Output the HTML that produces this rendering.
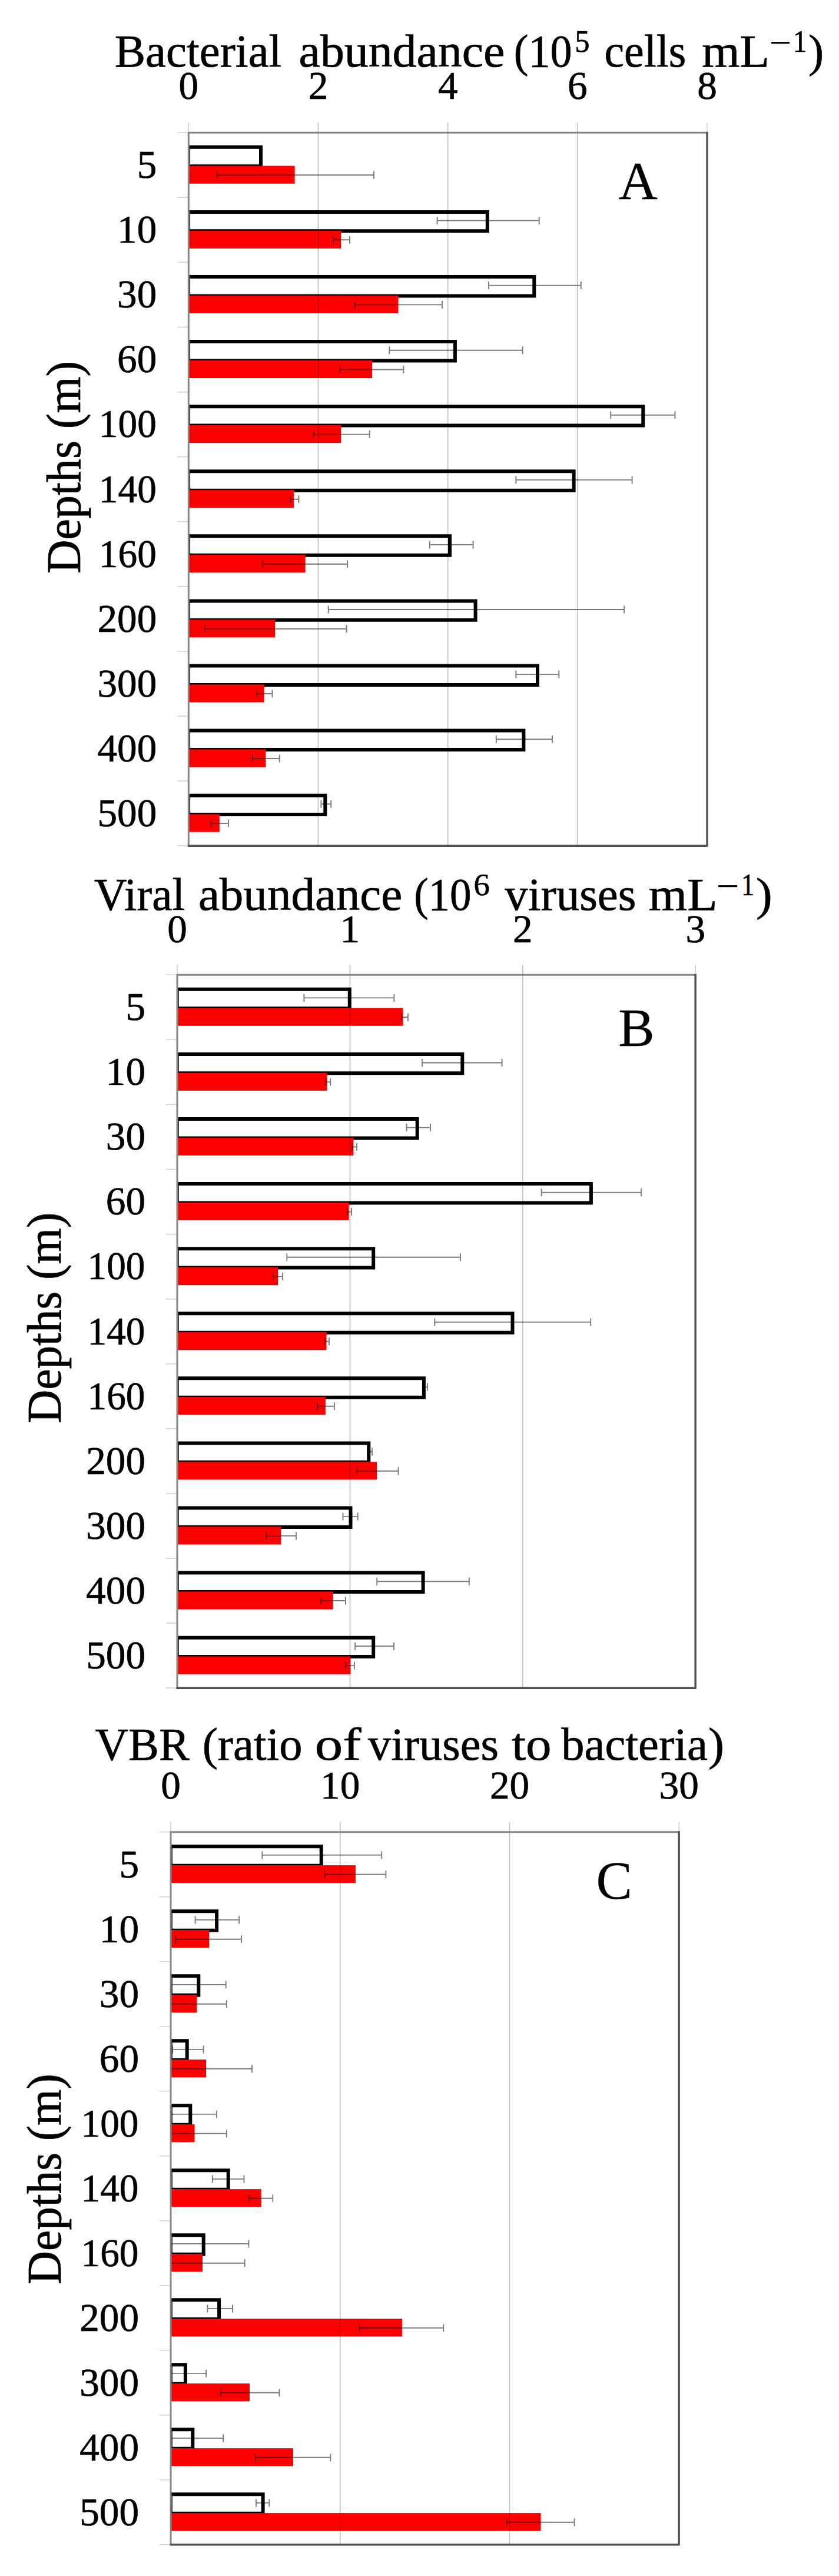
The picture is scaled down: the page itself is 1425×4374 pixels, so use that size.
<!DOCTYPE html>
<html lang="en"><head><meta charset="utf-8"><title>Figure</title>
<style>html,body{margin:0;padding:0;background:#fff}svg{display:block}</style></head>
<body>
<svg width="1425" height="4374" viewBox="0 0 1425 4374" font-family="'Liberation Serif', 'Times New Roman', serif" fill="#000">
<style>text{stroke:#000;stroke-width:0.7px;stroke-linejoin:round}</style>
<rect width="1425" height="4374" fill="#fff"/>
<g id="panelA">
<path d="M320.3 249.8H443.0V282.2H320.3" fill="#fff" stroke="#000" stroke-width="6.0"/>
<line x1="322.3" y1="249.8" x2="322.3" y2="282.2" stroke="#000" stroke-width="1.6"/>
<path d="M320.3 359.9H827.8V392.3H320.3" fill="#fff" stroke="#000" stroke-width="6.0"/>
<line x1="322.3" y1="359.9" x2="322.3" y2="392.3" stroke="#000" stroke-width="1.6"/>
<path d="M320.3 470.0H907.3V502.4H320.3" fill="#fff" stroke="#000" stroke-width="6.0"/>
<line x1="322.3" y1="470.0" x2="322.3" y2="502.4" stroke="#000" stroke-width="1.6"/>
<path d="M320.3 580.1H772.9V612.5H320.3" fill="#fff" stroke="#000" stroke-width="6.0"/>
<line x1="322.3" y1="580.1" x2="322.3" y2="612.5" stroke="#000" stroke-width="1.6"/>
<path d="M320.3 690.2H1092.3V722.6H320.3" fill="#fff" stroke="#000" stroke-width="6.0"/>
<line x1="322.3" y1="690.2" x2="322.3" y2="722.6" stroke="#000" stroke-width="1.6"/>
<path d="M320.3 800.3H974.6V832.7H320.3" fill="#fff" stroke="#000" stroke-width="6.0"/>
<line x1="322.3" y1="800.3" x2="322.3" y2="832.7" stroke="#000" stroke-width="1.6"/>
<path d="M320.3 910.3H764.0V942.7H320.3" fill="#fff" stroke="#000" stroke-width="6.0"/>
<line x1="322.3" y1="910.3" x2="322.3" y2="942.7" stroke="#000" stroke-width="1.6"/>
<path d="M320.3 1020.4H807.6V1052.8H320.3" fill="#fff" stroke="#000" stroke-width="6.0"/>
<line x1="322.3" y1="1020.4" x2="322.3" y2="1052.8" stroke="#000" stroke-width="1.6"/>
<path d="M320.3 1130.5H913.0V1162.9H320.3" fill="#fff" stroke="#000" stroke-width="6.0"/>
<line x1="322.3" y1="1130.5" x2="322.3" y2="1162.9" stroke="#000" stroke-width="1.6"/>
<path d="M320.3 1240.6H889.4V1273.0H320.3" fill="#fff" stroke="#000" stroke-width="6.0"/>
<line x1="322.3" y1="1240.6" x2="322.3" y2="1273.0" stroke="#000" stroke-width="1.6"/>
<path d="M320.3 1350.7H552.3V1383.1H320.3" fill="#fff" stroke="#000" stroke-width="6.0"/>
<line x1="322.3" y1="1350.7" x2="322.3" y2="1383.1" stroke="#000" stroke-width="1.6"/>
<rect x="320.3" y="281.6" width="180.3" height="30.2" fill="#ff0000"/>
<rect x="320.3" y="391.7" width="258.7" height="30.2" fill="#ff0000"/>
<rect x="320.3" y="501.8" width="356.2" height="30.2" fill="#ff0000"/>
<rect x="320.3" y="611.9" width="311.9" height="30.2" fill="#ff0000"/>
<rect x="320.3" y="722.0" width="258.7" height="30.2" fill="#ff0000"/>
<rect x="320.3" y="832.1" width="178.6" height="30.2" fill="#ff0000"/>
<rect x="320.3" y="942.1" width="198.2" height="30.2" fill="#ff0000"/>
<rect x="320.3" y="1052.2" width="146.7" height="30.2" fill="#ff0000"/>
<rect x="320.3" y="1162.3" width="128.2" height="30.2" fill="#ff0000"/>
<rect x="320.3" y="1272.4" width="131.0" height="30.2" fill="#ff0000"/>
<rect x="320.3" y="1382.5" width="52.5" height="30.2" fill="#ff0000"/>
<line x1="320.3" y1="208.2" x2="320.3" y2="225.2" stroke="#cfcfcf" stroke-width="1.6"/>
<line x1="540.5" y1="208.2" x2="540.5" y2="1436.2" stroke="rgba(0,0,0,0.24)" stroke-width="1.7"/>
<line x1="760.7" y1="208.2" x2="760.7" y2="1436.2" stroke="rgba(0,0,0,0.24)" stroke-width="1.7"/>
<line x1="980.8" y1="208.2" x2="980.8" y2="1436.2" stroke="rgba(0,0,0,0.24)" stroke-width="1.7"/>
<line x1="1201.0" y1="208.2" x2="1201.0" y2="225.2" stroke="#cfcfcf" stroke-width="1.6"/>
<line x1="301.3" y1="225.2" x2="320.3" y2="225.2" stroke="#d2d2d2" stroke-width="1.6"/>
<line x1="301.3" y1="335.3" x2="320.3" y2="335.3" stroke="#d2d2d2" stroke-width="1.6"/>
<line x1="301.3" y1="445.4" x2="320.3" y2="445.4" stroke="#d2d2d2" stroke-width="1.6"/>
<line x1="301.3" y1="555.5" x2="320.3" y2="555.5" stroke="#d2d2d2" stroke-width="1.6"/>
<line x1="301.3" y1="665.6" x2="320.3" y2="665.6" stroke="#d2d2d2" stroke-width="1.6"/>
<line x1="301.3" y1="775.7" x2="320.3" y2="775.7" stroke="#d2d2d2" stroke-width="1.6"/>
<line x1="301.3" y1="885.7" x2="320.3" y2="885.7" stroke="#d2d2d2" stroke-width="1.6"/>
<line x1="301.3" y1="995.8" x2="320.3" y2="995.8" stroke="#d2d2d2" stroke-width="1.6"/>
<line x1="301.3" y1="1105.9" x2="320.3" y2="1105.9" stroke="#d2d2d2" stroke-width="1.6"/>
<line x1="301.3" y1="1216.0" x2="320.3" y2="1216.0" stroke="#d2d2d2" stroke-width="1.6"/>
<line x1="301.3" y1="1326.1" x2="320.3" y2="1326.1" stroke="#d2d2d2" stroke-width="1.6"/>
<line x1="301.3" y1="1436.2" x2="320.3" y2="1436.2" stroke="#d2d2d2" stroke-width="1.6"/>
<path d="M368.0 297.2H635.0M635.0 290.7v13M368.0 290.7v13" stroke="rgba(0,0,0,0.52)" stroke-width="1.9" fill="none"/>
<path d="M742.6 374.5H915.7M915.7 368.0v13M742.6 368.0v13" stroke="rgba(0,0,0,0.52)" stroke-width="1.9" fill="none"/>
<path d="M566.0 407.3H594.0M594.0 400.8v13M566.0 400.8v13" stroke="rgba(0,0,0,0.52)" stroke-width="1.9" fill="none"/>
<path d="M830.0 484.6H986.8M986.8 478.1v13M830.0 478.1v13" stroke="rgba(0,0,0,0.52)" stroke-width="1.9" fill="none"/>
<path d="M602.5 517.4H751.0M751.0 510.9v13M602.5 510.9v13" stroke="rgba(0,0,0,0.52)" stroke-width="1.9" fill="none"/>
<path d="M661.3 594.7H887.6M887.6 588.2v13M661.3 588.2v13" stroke="rgba(0,0,0,0.52)" stroke-width="1.9" fill="none"/>
<path d="M577.3 627.5H685.4M685.4 621.0v13M577.3 621.0v13" stroke="rgba(0,0,0,0.52)" stroke-width="1.9" fill="none"/>
<path d="M1037.2 704.8H1146.5M1146.5 698.3v13M1037.2 698.3v13" stroke="rgba(0,0,0,0.52)" stroke-width="1.9" fill="none"/>
<path d="M532.5 737.6H627.7M627.7 731.1v13M532.5 731.1v13" stroke="rgba(0,0,0,0.52)" stroke-width="1.9" fill="none"/>
<path d="M876.4 814.9H1073.6M1073.6 808.4v13M876.4 808.4v13" stroke="rgba(0,0,0,0.52)" stroke-width="1.9" fill="none"/>
<path d="M493.3 847.7H507.3M507.3 841.2v13M493.3 841.2v13" stroke="rgba(0,0,0,0.52)" stroke-width="1.9" fill="none"/>
<path d="M729.7 924.9H803.6M803.6 918.4v13M729.7 918.4v13" stroke="rgba(0,0,0,0.52)" stroke-width="1.9" fill="none"/>
<path d="M445.7 957.7H590.2M590.2 951.2v13M445.7 951.2v13" stroke="rgba(0,0,0,0.52)" stroke-width="1.9" fill="none"/>
<path d="M557.7 1035.0H1060.2M1060.2 1028.5v13M557.7 1028.5v13" stroke="rgba(0,0,0,0.52)" stroke-width="1.9" fill="none"/>
<path d="M347.6 1067.8H588.5M588.5 1061.3v13M347.6 1061.3v13" stroke="rgba(0,0,0,0.52)" stroke-width="1.9" fill="none"/>
<path d="M876.4 1145.1H949.3M949.3 1138.6v13M876.4 1138.6v13" stroke="rgba(0,0,0,0.52)" stroke-width="1.9" fill="none"/>
<path d="M436.0 1177.9H462.5M462.5 1171.4v13M436.0 1171.4v13" stroke="rgba(0,0,0,0.52)" stroke-width="1.9" fill="none"/>
<path d="M842.8 1255.2H938.0M938.0 1248.7v13M842.8 1248.7v13" stroke="rgba(0,0,0,0.52)" stroke-width="1.9" fill="none"/>
<path d="M428.9 1288.0H474.8M474.8 1281.5v13M428.9 1281.5v13" stroke="rgba(0,0,0,0.52)" stroke-width="1.9" fill="none"/>
<path d="M545.4 1365.3H562.2M562.2 1358.8v13M545.4 1358.8v13" stroke="rgba(0,0,0,0.52)" stroke-width="1.9" fill="none"/>
<path d="M358.8 1398.1H388.0M388.0 1391.6v13M358.8 1391.6v13" stroke="rgba(0,0,0,0.52)" stroke-width="1.9" fill="none"/>
<path d="M320.3 1436.2V225.2H1201.0" stroke="#858585" stroke-width="3" fill="none" stroke-linejoin="miter"/>
<path d="M318.8 1436.2H1201.0V223.7" stroke="#505050" stroke-width="3.4" fill="none" stroke-linejoin="round"/>
<text x="320.3" y="167.5" font-size="67.2" text-anchor="middle">0</text>
<text x="540.5" y="167.5" font-size="67.2" text-anchor="middle">2</text>
<text x="760.7" y="167.5" font-size="67.2" text-anchor="middle">4</text>
<text x="980.8" y="167.5" font-size="67.2" text-anchor="middle">6</text>
<text x="1201.0" y="167.5" font-size="67.2" text-anchor="middle">8</text>
<text x="266.3" y="302.0" font-size="67.2" text-anchor="end">5</text>
<text x="266.3" y="412.1" font-size="67.2" text-anchor="end">10</text>
<text x="266.3" y="522.2" font-size="67.2" text-anchor="end">30</text>
<text x="266.3" y="632.3" font-size="67.2" text-anchor="end">60</text>
<text transform="translate(265.8 742.4) scale(0.972 1)" font-size="67.2" text-anchor="end">100</text>
<text transform="translate(265.8 852.5) scale(0.972 1)" font-size="67.2" text-anchor="end">140</text>
<text transform="translate(265.8 962.6) scale(0.972 1)" font-size="67.2" text-anchor="end">160</text>
<text x="266.3" y="1072.7" font-size="67.2" text-anchor="end">200</text>
<text x="266.3" y="1182.8" font-size="67.2" text-anchor="end">300</text>
<text x="266.3" y="1292.9" font-size="67.2" text-anchor="end">400</text>
<text x="266.3" y="1403.0" font-size="67.2" text-anchor="end">500</text>
<text transform="translate(135.6 974.0) rotate(-90) scale(1.0172 1.06)" font-size="78.4">Depths (m)</text>
<text x="1050.4" y="338.3" font-size="92" style="stroke-width:0.3px">A</text>
<text transform="translate(194.69 113.2) scale(1.0029 1)" font-size="78.4">Bacterial</text>
<text transform="translate(507.57 113.2) scale(1.0435 1)" font-size="78.4">abundance</text>
<text transform="translate(872.86 113.2) scale(0.9455 1)" font-size="78.4">(10</text>
<text transform="translate(976.44 88.2) scale(0.9524 1)" font-size="52.3">5</text>
<text transform="translate(1026.40 113.2) scale(0.9667 1)" font-size="78.4">cells</text>
<text transform="translate(1192.19 113.2) scale(1.0529 1)" font-size="78.4">mL</text>
<text transform="translate(1307.02 90.0) scale(1.2400 1)" font-size="52.3">−</text>
<text transform="translate(1346.92 88.2) scale(0.8947 1)" font-size="52.3">1</text>
<text transform="translate(1373.00 113.2) scale(1.0000 1)" font-size="78.4">)</text>
</g>
<g id="panelB">
<path d="M301.0 1679.8H593.8V1712.2H301.0" fill="#fff" stroke="#000" stroke-width="6.0"/>
<line x1="303.0" y1="1679.8" x2="303.0" y2="1712.2" stroke="#000" stroke-width="1.6"/>
<path d="M301.0 1789.9H785.3V1822.3H301.0" fill="#fff" stroke="#000" stroke-width="6.0"/>
<line x1="303.0" y1="1789.9" x2="303.0" y2="1822.3" stroke="#000" stroke-width="1.6"/>
<path d="M301.0 1900.0H708.7V1932.4H301.0" fill="#fff" stroke="#000" stroke-width="6.0"/>
<line x1="303.0" y1="1900.0" x2="303.0" y2="1932.4" stroke="#000" stroke-width="1.6"/>
<path d="M301.0 2010.1H1003.9V2042.5H301.0" fill="#fff" stroke="#000" stroke-width="6.0"/>
<line x1="303.0" y1="2010.1" x2="303.0" y2="2042.5" stroke="#000" stroke-width="1.6"/>
<path d="M301.0 2120.2H634.2V2152.6H301.0" fill="#fff" stroke="#000" stroke-width="6.0"/>
<line x1="303.0" y1="2120.2" x2="303.0" y2="2152.6" stroke="#000" stroke-width="1.6"/>
<path d="M301.0 2230.3H870.5V2262.7H301.0" fill="#fff" stroke="#000" stroke-width="6.0"/>
<line x1="303.0" y1="2230.3" x2="303.0" y2="2262.7" stroke="#000" stroke-width="1.6"/>
<path d="M301.0 2340.3H719.9V2372.7H301.0" fill="#fff" stroke="#000" stroke-width="6.0"/>
<line x1="303.0" y1="2340.3" x2="303.0" y2="2372.7" stroke="#000" stroke-width="1.6"/>
<path d="M301.0 2450.4H626.3V2482.8H301.0" fill="#fff" stroke="#000" stroke-width="6.0"/>
<line x1="303.0" y1="2450.4" x2="303.0" y2="2482.8" stroke="#000" stroke-width="1.6"/>
<path d="M301.0 2560.5H595.5V2592.9H301.0" fill="#fff" stroke="#000" stroke-width="6.0"/>
<line x1="303.0" y1="2560.5" x2="303.0" y2="2592.9" stroke="#000" stroke-width="1.6"/>
<path d="M301.0 2670.6H718.6V2703.0H301.0" fill="#fff" stroke="#000" stroke-width="6.0"/>
<line x1="303.0" y1="2670.6" x2="303.0" y2="2703.0" stroke="#000" stroke-width="1.6"/>
<path d="M301.0 2780.7H634.2V2813.1H301.0" fill="#fff" stroke="#000" stroke-width="6.0"/>
<line x1="303.0" y1="2780.7" x2="303.0" y2="2813.1" stroke="#000" stroke-width="1.6"/>
<rect x="301.0" y="1711.6" width="383.5" height="30.2" fill="#ff0000"/>
<rect x="301.0" y="1821.7" width="254.6" height="30.2" fill="#ff0000"/>
<rect x="301.0" y="1931.8" width="299.4" height="30.2" fill="#ff0000"/>
<rect x="301.0" y="2041.9" width="291.6" height="30.2" fill="#ff0000"/>
<rect x="301.0" y="2152.0" width="171.2" height="30.2" fill="#ff0000"/>
<rect x="301.0" y="2262.1" width="253.5" height="30.2" fill="#ff0000"/>
<rect x="301.0" y="2372.1" width="251.8" height="30.2" fill="#ff0000"/>
<rect x="301.0" y="2482.2" width="339.2" height="30.2" fill="#ff0000"/>
<rect x="301.0" y="2592.3" width="176.2" height="30.2" fill="#ff0000"/>
<rect x="301.0" y="2702.4" width="264.7" height="30.2" fill="#ff0000"/>
<rect x="301.0" y="2812.5" width="294.4" height="30.2" fill="#ff0000"/>
<line x1="301.0" y1="1638.2" x2="301.0" y2="1655.2" stroke="#cfcfcf" stroke-width="1.6"/>
<line x1="594.4" y1="1638.2" x2="594.4" y2="2866.2" stroke="rgba(0,0,0,0.24)" stroke-width="1.7"/>
<line x1="887.8" y1="1638.2" x2="887.8" y2="2866.2" stroke="rgba(0,0,0,0.24)" stroke-width="1.7"/>
<line x1="1181.2" y1="1638.2" x2="1181.2" y2="1655.2" stroke="#cfcfcf" stroke-width="1.6"/>
<line x1="282.0" y1="1655.2" x2="301.0" y2="1655.2" stroke="#d2d2d2" stroke-width="1.6"/>
<line x1="282.0" y1="1765.3" x2="301.0" y2="1765.3" stroke="#d2d2d2" stroke-width="1.6"/>
<line x1="282.0" y1="1875.4" x2="301.0" y2="1875.4" stroke="#d2d2d2" stroke-width="1.6"/>
<line x1="282.0" y1="1985.5" x2="301.0" y2="1985.5" stroke="#d2d2d2" stroke-width="1.6"/>
<line x1="282.0" y1="2095.6" x2="301.0" y2="2095.6" stroke="#d2d2d2" stroke-width="1.6"/>
<line x1="282.0" y1="2205.7" x2="301.0" y2="2205.7" stroke="#d2d2d2" stroke-width="1.6"/>
<line x1="282.0" y1="2315.7" x2="301.0" y2="2315.7" stroke="#d2d2d2" stroke-width="1.6"/>
<line x1="282.0" y1="2425.8" x2="301.0" y2="2425.8" stroke="#d2d2d2" stroke-width="1.6"/>
<line x1="282.0" y1="2535.9" x2="301.0" y2="2535.9" stroke="#d2d2d2" stroke-width="1.6"/>
<line x1="282.0" y1="2646.0" x2="301.0" y2="2646.0" stroke="#d2d2d2" stroke-width="1.6"/>
<line x1="282.0" y1="2756.1" x2="301.0" y2="2756.1" stroke="#d2d2d2" stroke-width="1.6"/>
<line x1="282.0" y1="2866.2" x2="301.0" y2="2866.2" stroke="#d2d2d2" stroke-width="1.6"/>
<path d="M516.4 1694.4H669.4M669.4 1687.9v13M516.4 1687.9v13" stroke="rgba(0,0,0,0.52)" stroke-width="1.9" fill="none"/>
<path d="M682.2 1727.2H692.9M692.9 1720.7v13M682.2 1720.7v13" stroke="rgba(0,0,0,0.52)" stroke-width="1.9" fill="none"/>
<path d="M717.0 1804.5H852.5M852.5 1798.0v13M717.0 1798.0v13" stroke="rgba(0,0,0,0.52)" stroke-width="1.9" fill="none"/>
<path d="M553.4 1837.3H561.2M561.2 1830.8v13M553.4 1830.8v13" stroke="rgba(0,0,0,0.52)" stroke-width="1.9" fill="none"/>
<path d="M690.6 1914.6H731.0M731.0 1908.1v13M690.6 1908.1v13" stroke="rgba(0,0,0,0.52)" stroke-width="1.9" fill="none"/>
<path d="M598.0 1947.4H606.0M606.0 1940.9v13M598.0 1940.9v13" stroke="rgba(0,0,0,0.52)" stroke-width="1.9" fill="none"/>
<path d="M919.7 2024.7H1089.0M1089.0 2018.2v13M919.7 2018.2v13" stroke="rgba(0,0,0,0.52)" stroke-width="1.9" fill="none"/>
<path d="M590.0 2057.5H597.0M597.0 2051.0v13M590.0 2051.0v13" stroke="rgba(0,0,0,0.52)" stroke-width="1.9" fill="none"/>
<path d="M487.3 2134.8H782.0M782.0 2128.3v13M487.3 2128.3v13" stroke="rgba(0,0,0,0.52)" stroke-width="1.9" fill="none"/>
<path d="M463.8 2167.6H480.0M480.0 2161.1v13M463.8 2161.1v13" stroke="rgba(0,0,0,0.52)" stroke-width="1.9" fill="none"/>
<path d="M738.3 2244.9H1003.2M1003.2 2238.4v13M738.3 2238.4v13" stroke="rgba(0,0,0,0.52)" stroke-width="1.9" fill="none"/>
<path d="M551.7 2277.7H559.0M559.0 2271.2v13M551.7 2271.2v13" stroke="rgba(0,0,0,0.52)" stroke-width="1.9" fill="none"/>
<path d="M719.5 2354.9H726.0M726.0 2348.4v13M719.5 2348.4v13" stroke="rgba(0,0,0,0.52)" stroke-width="1.9" fill="none"/>
<path d="M538.8 2387.7H568.0M568.0 2381.2v13M538.8 2381.2v13" stroke="rgba(0,0,0,0.52)" stroke-width="1.9" fill="none"/>
<path d="M624.0 2465.0H632.0M632.0 2458.5v13M624.0 2458.5v13" stroke="rgba(0,0,0,0.52)" stroke-width="1.9" fill="none"/>
<path d="M606.0 2497.8H676.6M676.6 2491.3v13M606.0 2491.3v13" stroke="rgba(0,0,0,0.52)" stroke-width="1.9" fill="none"/>
<path d="M582.5 2575.1H607.7M607.7 2568.6v13M582.5 2568.6v13" stroke="rgba(0,0,0,0.52)" stroke-width="1.9" fill="none"/>
<path d="M452.0 2607.9H503.0M503.0 2601.4v13M452.0 2601.4v13" stroke="rgba(0,0,0,0.52)" stroke-width="1.9" fill="none"/>
<path d="M640.2 2685.2H796.8M796.8 2678.7v13M640.2 2678.7v13" stroke="rgba(0,0,0,0.52)" stroke-width="1.9" fill="none"/>
<path d="M545.0 2718.0H587.0M587.0 2711.5v13M545.0 2711.5v13" stroke="rgba(0,0,0,0.52)" stroke-width="1.9" fill="none"/>
<path d="M603.2 2795.3H669.0M669.0 2788.8v13M603.2 2788.8v13" stroke="rgba(0,0,0,0.52)" stroke-width="1.9" fill="none"/>
<path d="M587.0 2828.1H602.0M602.0 2821.6v13M587.0 2821.6v13" stroke="rgba(0,0,0,0.52)" stroke-width="1.9" fill="none"/>
<path d="M301.0 2866.2V1655.2H1181.2" stroke="#858585" stroke-width="3" fill="none" stroke-linejoin="miter"/>
<path d="M299.5 2866.2H1181.2V1653.7" stroke="#505050" stroke-width="3.4" fill="none" stroke-linejoin="round"/>
<text x="301.0" y="1600" font-size="67.2" text-anchor="middle">0</text>
<text x="594.4" y="1600" font-size="67.2" text-anchor="middle">1</text>
<text x="887.8" y="1600" font-size="67.2" text-anchor="middle">2</text>
<text x="1181.2" y="1600" font-size="67.2" text-anchor="middle">3</text>
<text x="247.0" y="1732.0" font-size="67.2" text-anchor="end">5</text>
<text x="247.0" y="1842.1" font-size="67.2" text-anchor="end">10</text>
<text x="247.0" y="1952.2" font-size="67.2" text-anchor="end">30</text>
<text x="247.0" y="2062.3" font-size="67.2" text-anchor="end">60</text>
<text transform="translate(246.5 2172.4) scale(0.972 1)" font-size="67.2" text-anchor="end">100</text>
<text transform="translate(246.5 2282.5) scale(0.972 1)" font-size="67.2" text-anchor="end">140</text>
<text transform="translate(246.5 2392.6) scale(0.972 1)" font-size="67.2" text-anchor="end">160</text>
<text x="247.0" y="2502.7" font-size="67.2" text-anchor="end">200</text>
<text x="247.0" y="2612.8" font-size="67.2" text-anchor="end">300</text>
<text x="247.0" y="2722.9" font-size="67.2" text-anchor="end">400</text>
<text x="247.0" y="2833.0" font-size="67.2" text-anchor="end">500</text>
<text transform="translate(103.4 2416.7) rotate(-90) scale(1.0089 1.06)" font-size="78.4">Depths (m)</text>
<text x="1050.2" y="1776" font-size="92" style="stroke-width:0.3px">B</text>
<text transform="translate(160.02 1544.8) scale(0.9838 1)" font-size="78.4">Viral</text>
<text transform="translate(336.90 1544.8) scale(1.0334 1)" font-size="78.4">abundance</text>
<text transform="translate(703.20 1544.8) scale(0.9323 1)" font-size="78.4">(10</text>
<text transform="translate(804.61 1519.8) scale(1.0435 1)" font-size="52.3">6</text>
<text transform="translate(857.30 1544.8) scale(1.0046 1)" font-size="78.4">viruses</text>
<text transform="translate(1101.86 1544.8) scale(1.0716 1)" font-size="78.4">mL</text>
<text transform="translate(1216.92 1521.6) scale(1.2880 1)" font-size="52.3">−</text>
<text transform="translate(1259.35 1519.8) scale(0.8368 1)" font-size="52.3">1</text>
<text transform="translate(1283.88 1544.8) scale(1.0619 1)" font-size="78.4">)</text>
</g>
<g id="panelC">
<path d="M290.0 3135.3H545.7V3167.7H290.0" fill="#fff" stroke="#000" stroke-width="6.0"/>
<line x1="292.0" y1="3135.3" x2="292.0" y2="3167.7" stroke="#000" stroke-width="1.6"/>
<path d="M290.0 3245.3H368.1V3277.7H290.0" fill="#fff" stroke="#000" stroke-width="6.0"/>
<line x1="292.0" y1="3245.3" x2="292.0" y2="3277.7" stroke="#000" stroke-width="1.6"/>
<path d="M290.0 3355.3H337.3V3387.7H290.0" fill="#fff" stroke="#000" stroke-width="6.0"/>
<line x1="292.0" y1="3355.3" x2="292.0" y2="3387.7" stroke="#000" stroke-width="1.6"/>
<path d="M290.0 3465.3H317.7V3497.7H290.0" fill="#fff" stroke="#000" stroke-width="6.0"/>
<line x1="292.0" y1="3465.3" x2="292.0" y2="3497.7" stroke="#000" stroke-width="1.6"/>
<path d="M290.0 3575.3H323.3V3607.7H290.0" fill="#fff" stroke="#000" stroke-width="6.0"/>
<line x1="292.0" y1="3575.3" x2="292.0" y2="3607.7" stroke="#000" stroke-width="1.6"/>
<path d="M290.0 3685.3H387.7V3717.7H290.0" fill="#fff" stroke="#000" stroke-width="6.0"/>
<line x1="292.0" y1="3685.3" x2="292.0" y2="3717.7" stroke="#000" stroke-width="1.6"/>
<path d="M290.0 3795.3H345.7V3827.7H290.0" fill="#fff" stroke="#000" stroke-width="6.0"/>
<line x1="292.0" y1="3795.3" x2="292.0" y2="3827.7" stroke="#000" stroke-width="1.6"/>
<path d="M290.0 3905.3H372.1V3937.7H290.0" fill="#fff" stroke="#000" stroke-width="6.0"/>
<line x1="292.0" y1="3905.3" x2="292.0" y2="3937.7" stroke="#000" stroke-width="1.6"/>
<path d="M290.0 4015.3H314.9V4047.7H290.0" fill="#fff" stroke="#000" stroke-width="6.0"/>
<line x1="292.0" y1="4015.3" x2="292.0" y2="4047.7" stroke="#000" stroke-width="1.6"/>
<path d="M290.0 4125.3H327.3V4157.7H290.0" fill="#fff" stroke="#000" stroke-width="6.0"/>
<line x1="292.0" y1="4125.3" x2="292.0" y2="4157.7" stroke="#000" stroke-width="1.6"/>
<path d="M290.0 4235.3H446.6V4267.7H290.0" fill="#fff" stroke="#000" stroke-width="6.0"/>
<line x1="292.0" y1="4235.3" x2="292.0" y2="4267.7" stroke="#000" stroke-width="1.6"/>
<rect x="290.0" y="3167.1" width="313.9" height="30.2" fill="#ff0000"/>
<rect x="290.0" y="3277.1" width="65.2" height="30.2" fill="#ff0000"/>
<rect x="290.0" y="3387.1" width="44.4" height="30.2" fill="#ff0000"/>
<rect x="290.0" y="3497.1" width="60.1" height="30.2" fill="#ff0000"/>
<rect x="290.0" y="3607.1" width="40.5" height="30.2" fill="#ff0000"/>
<rect x="290.0" y="3717.1" width="153.7" height="30.2" fill="#ff0000"/>
<rect x="290.0" y="3827.1" width="54.0" height="30.2" fill="#ff0000"/>
<rect x="290.0" y="3937.1" width="392.9" height="30.2" fill="#ff0000"/>
<rect x="290.0" y="4047.1" width="134.0" height="30.2" fill="#ff0000"/>
<rect x="290.0" y="4157.1" width="208.0" height="30.2" fill="#ff0000"/>
<rect x="290.0" y="4267.1" width="628.5" height="30.2" fill="#ff0000"/>
<line x1="290.0" y1="3093.7" x2="290.0" y2="3110.7" stroke="#cfcfcf" stroke-width="1.6"/>
<line x1="577.7" y1="3093.7" x2="577.7" y2="4320.7" stroke="rgba(0,0,0,0.24)" stroke-width="1.7"/>
<line x1="865.5" y1="3093.7" x2="865.5" y2="4320.7" stroke="rgba(0,0,0,0.24)" stroke-width="1.7"/>
<line x1="1153.2" y1="3093.7" x2="1153.2" y2="3110.7" stroke="#cfcfcf" stroke-width="1.6"/>
<line x1="271.0" y1="3110.7" x2="290.0" y2="3110.7" stroke="#d2d2d2" stroke-width="1.6"/>
<line x1="271.0" y1="3220.7" x2="290.0" y2="3220.7" stroke="#d2d2d2" stroke-width="1.6"/>
<line x1="271.0" y1="3330.7" x2="290.0" y2="3330.7" stroke="#d2d2d2" stroke-width="1.6"/>
<line x1="271.0" y1="3440.7" x2="290.0" y2="3440.7" stroke="#d2d2d2" stroke-width="1.6"/>
<line x1="271.0" y1="3550.7" x2="290.0" y2="3550.7" stroke="#d2d2d2" stroke-width="1.6"/>
<line x1="271.0" y1="3660.7" x2="290.0" y2="3660.7" stroke="#d2d2d2" stroke-width="1.6"/>
<line x1="271.0" y1="3770.7" x2="290.0" y2="3770.7" stroke="#d2d2d2" stroke-width="1.6"/>
<line x1="271.0" y1="3880.7" x2="290.0" y2="3880.7" stroke="#d2d2d2" stroke-width="1.6"/>
<line x1="271.0" y1="3990.7" x2="290.0" y2="3990.7" stroke="#d2d2d2" stroke-width="1.6"/>
<line x1="271.0" y1="4100.7" x2="290.0" y2="4100.7" stroke="#d2d2d2" stroke-width="1.6"/>
<line x1="271.0" y1="4210.7" x2="290.0" y2="4210.7" stroke="#d2d2d2" stroke-width="1.6"/>
<line x1="271.0" y1="4320.7" x2="290.0" y2="4320.7" stroke="#d2d2d2" stroke-width="1.6"/>
<path d="M445.4 3149.9H648.2M648.2 3143.4v13M445.4 3143.4v13" stroke="rgba(0,0,0,0.52)" stroke-width="1.9" fill="none"/>
<path d="M551.8 3182.7H655.4M655.4 3176.2v13M551.8 3176.2v13" stroke="rgba(0,0,0,0.52)" stroke-width="1.9" fill="none"/>
<path d="M331.6 3259.9H406.1M406.1 3253.4v13M331.6 3253.4v13" stroke="rgba(0,0,0,0.52)" stroke-width="1.9" fill="none"/>
<path d="M298.0 3292.7H410.0M410.0 3286.2v13M298.0 3286.2v13" stroke="rgba(0,0,0,0.52)" stroke-width="1.9" fill="none"/>
<path d="M290.0 3369.9H383.7M383.7 3363.4v13" stroke="rgba(0,0,0,0.52)" stroke-width="1.9" fill="none"/>
<path d="M290.0 3402.7H384.8M384.8 3396.2v13" stroke="rgba(0,0,0,0.52)" stroke-width="1.9" fill="none"/>
<path d="M293.0 3479.9H345.6M345.6 3473.4v13M293.0 3473.4v13" stroke="rgba(0,0,0,0.52)" stroke-width="1.9" fill="none"/>
<path d="M290.0 3512.7H428.0M428.0 3506.2v13" stroke="rgba(0,0,0,0.52)" stroke-width="1.9" fill="none"/>
<path d="M290.0 3589.9H368.0M368.0 3583.4v13" stroke="rgba(0,0,0,0.52)" stroke-width="1.9" fill="none"/>
<path d="M290.0 3622.7H384.8M384.8 3616.2v13" stroke="rgba(0,0,0,0.52)" stroke-width="1.9" fill="none"/>
<path d="M360.8 3699.9H414.5M414.5 3693.4v13M360.8 3693.4v13" stroke="rgba(0,0,0,0.52)" stroke-width="1.9" fill="none"/>
<path d="M423.0 3732.7H463.3M463.3 3726.2v13M423.0 3726.2v13" stroke="rgba(0,0,0,0.52)" stroke-width="1.9" fill="none"/>
<path d="M290.0 3809.9H422.4M422.4 3803.4v13" stroke="rgba(0,0,0,0.52)" stroke-width="1.9" fill="none"/>
<path d="M290.0 3842.7H415.7M415.7 3836.2v13" stroke="rgba(0,0,0,0.52)" stroke-width="1.9" fill="none"/>
<path d="M352.4 3919.9H395.0M395.0 3913.4v13M352.4 3913.4v13" stroke="rgba(0,0,0,0.52)" stroke-width="1.9" fill="none"/>
<path d="M610.6 3952.7H753.2M753.2 3946.2v13M610.6 3946.2v13" stroke="rgba(0,0,0,0.52)" stroke-width="1.9" fill="none"/>
<path d="M290.0 4029.9H350.1M350.1 4023.4v13" stroke="rgba(0,0,0,0.52)" stroke-width="1.9" fill="none"/>
<path d="M374.8 4062.7H474.5M474.5 4056.2v13M374.8 4056.2v13" stroke="rgba(0,0,0,0.52)" stroke-width="1.9" fill="none"/>
<path d="M290.0 4139.9H379.2M379.2 4133.4v13" stroke="rgba(0,0,0,0.52)" stroke-width="1.9" fill="none"/>
<path d="M434.0 4172.7H561.3M561.3 4166.2v13M434.0 4166.2v13" stroke="rgba(0,0,0,0.52)" stroke-width="1.9" fill="none"/>
<path d="M435.0 4249.9H457.3M457.3 4243.4v13M435.0 4243.4v13" stroke="rgba(0,0,0,0.52)" stroke-width="1.9" fill="none"/>
<path d="M860.8 4282.7H975.6M975.6 4276.2v13M860.8 4276.2v13" stroke="rgba(0,0,0,0.52)" stroke-width="1.9" fill="none"/>
<path d="M290.0 4320.7V3110.7H1153.2" stroke="#858585" stroke-width="3" fill="none" stroke-linejoin="miter"/>
<path d="M288.5 4320.7H1153.2V3109.2" stroke="#505050" stroke-width="3.4" fill="none" stroke-linejoin="round"/>
<text x="290.0" y="3053.5" font-size="67.2" text-anchor="middle">0</text>
<text x="577.7" y="3053.5" font-size="67.2" text-anchor="middle">10</text>
<text x="865.5" y="3053.5" font-size="67.2" text-anchor="middle">20</text>
<text x="1153.2" y="3053.5" font-size="67.2" text-anchor="middle">30</text>
<text x="236.0" y="3187.5" font-size="67.2" text-anchor="end">5</text>
<text x="236.0" y="3297.5" font-size="67.2" text-anchor="end">10</text>
<text x="236.0" y="3407.5" font-size="67.2" text-anchor="end">30</text>
<text x="236.0" y="3517.5" font-size="67.2" text-anchor="end">60</text>
<text transform="translate(235.5 3627.5) scale(0.972 1)" font-size="67.2" text-anchor="end">100</text>
<text transform="translate(235.5 3737.5) scale(0.972 1)" font-size="67.2" text-anchor="end">140</text>
<text transform="translate(235.5 3847.5) scale(0.972 1)" font-size="67.2" text-anchor="end">160</text>
<text x="236.0" y="3957.5" font-size="67.2" text-anchor="end">200</text>
<text x="236.0" y="4067.5" font-size="67.2" text-anchor="end">300</text>
<text x="236.0" y="4177.5" font-size="67.2" text-anchor="end">400</text>
<text x="236.0" y="4287.5" font-size="67.2" text-anchor="end">500</text>
<text transform="translate(103.4 3879.0) rotate(-90) scale(1.0086 1.06)" font-size="78.4">Depths (m)</text>
<text x="1012.5" y="3224" font-size="92" style="stroke-width:0.3px">C</text>
<text transform="translate(161.71 2988.0) scale(0.9938 1)" font-size="78.4">VBR</text>
<text transform="translate(343.70 2988.0) scale(1.0000 1)" font-size="78.4">(ratio</text>
<text transform="translate(534.67 2988.0) scale(1.2097 1)" font-size="78.4">of</text>
<text transform="translate(625.00 2988.0) scale(1.0000 1)" font-size="78.4">viruses</text>
<text transform="translate(868.89 2988.0) scale(1.1105 1)" font-size="78.4">to</text>
<text transform="translate(953.30 2988.0) scale(1.0016 1)" font-size="78.4">bacteria</text>
<text transform="translate(1202.93 2988.0) scale(1.0333 1)" font-size="78.4">)</text>
</g>
</svg>
</body></html>
